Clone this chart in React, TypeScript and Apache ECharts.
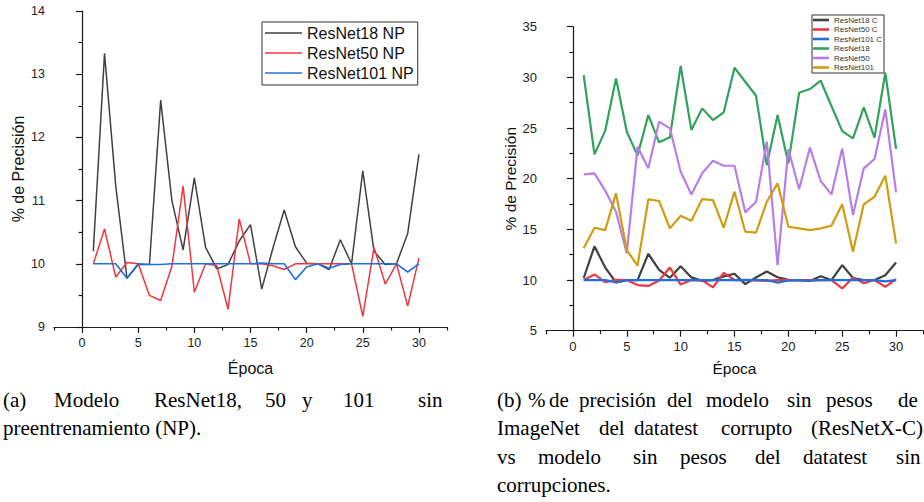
import React, { useEffect, useRef } from "react";
import * as echarts from "echarts";

const epochs = [1, 2, 3, 4, 5, 6, 7, 8, 9, 10, 11, 12, 13, 14, 15, 16, 17, 18, 19, 20, 21, 22, 23, 24, 25, 26, 27, 28, 29, 30];

const resnet18NP = [10.2, 13.33, 11.23, 9.77, 9.99, 9.99, 12.59, 11.0, 10.22, 11.36, 10.26, 9.92, 9.99, 10.36, 10.62, 9.6, 10.25, 10.85, 10.27, 10.01, 10.0, 9.91, 10.38, 10.0, 11.47, 10.2, 9.99, 10.0, 10.48, 11.73];
const resnet50NP = [10.0, 10.55, 9.79, 10.02, 10.0, 9.5, 9.42, 9.96, 11.23, 9.55, 10.0, 9.97, 9.28, 10.71, 10.0, 10.0, 9.97, 9.91, 10.0, 10.0, 10.0, 10.0, 10.0, 10.0, 9.17, 10.26, 9.68, 10.0, 9.33, 10.09];
const resnet101NP = [10.0, 10.0, 10.0, 9.77, 10.0, 9.99, 9.99, 10.0, 10.0, 10.0, 10.0, 10.0, 10.0, 10.0, 10.0, 10.01, 10.0, 10.0, 9.75, 9.95, 10.0, 9.93, 9.99, 10.0, 10.0, 10.0, 10.0, 10.0, 9.87, 10.0];

const resnet18C = resnet18NP;
const resnet50C = resnet50NP;
const resnet101C = resnet101NP;
const resnet18 = [30.23, 22.4, 24.74, 29.9, 24.64, 22.3, 26.28, 23.59, 24.08, 31.12, 24.8, 26.94, 25.79, 26.55, 30.95, 29.57, 28.19, 21.35, 26.28, 21.51, 28.49, 28.85, 29.67, 27.17, 24.7, 23.98, 27.04, 24.05, 30.46, 22.93];
const resnet50 = [20.43, 20.53, 18.82, 16.74, 12.63, 23.16, 21.02, 25.63, 24.97, 20.69, 18.45, 20.53, 21.78, 21.28, 21.28, 16.68, 17.73, 23.65, 11.48, 22.93, 18.95, 23.06, 19.77, 18.45, 22.99, 16.41, 21.02, 21.94, 26.84, 18.65];
const resnet101 = [13.13, 15.16, 14.93, 18.55, 12.96, 11.41, 17.96, 17.8, 15.1, 16.35, 15.86, 17.99, 17.89, 15.16, 18.72, 14.77, 14.67, 17.73, 19.54, 15.26, 15.1, 14.93, 15.1, 15.36, 17.47, 12.8, 17.47, 18.22, 20.3, 13.62];

const xMajorTicks = [0, 5, 10, 15, 20, 25, 30];
const xMinorTicks = [-2.5, 2.5, 7.5, 12.5, 17.5, 22.5, 27.5, 32.5];

const leftNames = ["ResNet18 NP", "ResNet50 NP", "ResNet101 NP"];
const rightNames = ["ResNet18 C", "ResNet50 C", "ResNet101 C", "ResNet18", "ResNet50", "ResNet101"];

const axisTitleX = "Época";
const axisTitleY = "% de Precisión";

const captionA1 = ["(a)", "Modelo", "ResNet18,", "50", "y", "101", "sin"];
const captionA2 = "preentrenamiento (NP).";
const captionB1 = ["(b)", "%", "de", "precisión", "del", "modelo", "sin", "pesos", "de"];
const captionB2 = ["ImageNet", "del", "datatest", "corrupto", "(ResNetX-C)"];
const captionB3 = ["vs", "modelo", "sin", "pesos", "del", "datatest", "sin"];
const captionB4 = "corrupciones.";

const SANS = "'Liberation Sans', Arial, sans-serif";
const SERIF = "'Liberation Serif', 'Times New Roman', serif";

const pairs = (ys: number[]) => epochs.map((e, i) => [e, ys[i]]);

export default function App() {
  const ref = useRef<HTMLDivElement>(null);
  useEffect(() => {
    if (!ref.current) return;
    const chart = echarts.init(ref.current, undefined, { renderer: "svg" });

    const grids = [
      { left: 54, top: 11, width: 393, height: 316 },
      { left: 546, top: 26.7, width: 377, height: 304 },
    ];
    const axisColor = "#1a1a1a";
    const labelColor = "#222";

    const mkX = (g: number, fs: number, nameFs: number, nameGap: number) => [
      {
        gridIndex: g,
        type: "value",
        min: -2.5,
        max: 32.5,
        position: "bottom",
        axisLine: { show: true, lineStyle: { color: axisColor, width: 1.2 } },
        axisTick: { show: true, customValues: xMajorTicks, length: 6, lineStyle: { color: axisColor, width: 1.2 } },
        axisLabel: { customValues: xMajorTicks, fontSize: fs, color: labelColor, fontFamily: SANS, margin: 9 },
        splitLine: { show: false },
        name: axisTitleX,
        nameLocation: "middle",
        nameGap,
        nameTextStyle: { fontSize: nameFs, color: "#111", fontFamily: SANS },
      },
      {
        gridIndex: g,
        type: "value",
        min: -2.5,
        max: 32.5,
        position: "top",
        offset: -grids[g].height,
        axisLine: { show: false },
        axisTick: { show: true, inside: true, customValues: xMinorTicks, length: 3.5, lineStyle: { color: axisColor, width: 1.2 } },
        axisLabel: { show: false },
        splitLine: { show: false },
      },
    ];

    const mkY = (g: number, min: number, max: number, interval: number, fs: number, nameFs: number) => ({
      gridIndex: g,
      type: "value",
      min,
      max,
      interval,
      axisLine: { show: true, lineStyle: { color: axisColor, width: 1.2 } },
      axisTick: { show: true, length: 6, lineStyle: { color: axisColor, width: 1.2 } },
      minorTick: { show: true, splitNumber: 2, length: 3.5, lineStyle: { color: axisColor, width: 1.2 } },
      axisLabel: { fontSize: fs, color: labelColor, fontFamily: SANS, margin: 9 },
      splitLine: { show: false },
      name: axisTitleY,
      nameLocation: "middle",
      nameGap: 28,
      nameTextStyle: { fontSize: nameFs, color: "#111", fontFamily: SANS },
    });

    const line = (name: string, data: number[], color: string, width: number, xi: number, yi: number) => ({
      name,
      type: "line",
      xAxisIndex: xi,
      yAxisIndex: yi,
      data: pairs(data),
      showSymbol: false,
      symbol: "none",
      color,
      lineStyle: { color, width },
      itemStyle: { color },
      z: 3,
    });

    const C_BLACK = "#404040";
    const C_RED = "#f0363e";
    const C_BLUE = "#1f6fe0";
    const C_GREEN = "#2fa35c";
    const C_PURPLE = "#b87ee6";
    const C_GOLD = "#d09c10";

    const FS = 21;
    const captionY = (baseline: number) => baseline - 0.3375 * FS;
    const words = (list: string[], xs: number[], baseline: number) =>
      list.map((t, i) => ({
        type: "text",
        x: xs[i],
        y: captionY(baseline),
        style: { text: t, fontSize: FS, fontFamily: SERIF, fill: "#000", verticalAlign: "middle" },
      }));

    const option: any = {
      animation: false,
      backgroundColor: "#fff",
      grid: grids,
      xAxis: [...mkX(0, 12.5, 16, 33), ...mkX(1, 13, 15.5, 30)],
      yAxis: [mkY(0, 9, 14, 1, 12.5, 16), mkY(1, 5, 35, 5, 13, 15.5)],
      legend: [
        {
          data: leftNames,
          orient: "vertical",
          left: 262,
          top: 22,
          padding: [3, 4, 4, 3],
          itemWidth: 37,
          itemHeight: 14,
          itemGap: 4,
          icon: "path://M0,0H37V1.6H0Z",
          borderColor: "#333",
          borderWidth: 1,
          backgroundColor: "#fff",
          textStyle: { fontSize: 16, color: "#111", fontFamily: SANS },
        },
        {
          data: rightNames,
          orient: "vertical",
          left: 812,
          top: 15,
          padding: [1, 2, 1.5, 1],
          itemWidth: 16,
          itemHeight: 8,
          itemGap: 1.5,
          icon: "path://M0,0H16V2.6H0Z",
          borderColor: "#333",
          borderWidth: 1,
          backgroundColor: "#fff",
          textStyle: { fontSize: 8, color: "#333", fontFamily: SANS },
        },
      ],
      series: [
        line(leftNames[0], resnet18NP, C_BLACK, 1.5, 0, 0),
        line(leftNames[1], resnet50NP, C_RED, 1.5, 0, 0),
        line(leftNames[2], resnet101NP, C_BLUE, 1.6, 0, 0),
        line(rightNames[0], resnet18C, C_BLACK, 2.2, 2, 1),
        line(rightNames[1], resnet50C, C_RED, 2.2, 2, 1),
        line(rightNames[2], resnet101C, C_BLUE, 2.2, 2, 1),
        line(rightNames[3], resnet18, C_GREEN, 2.2, 2, 1),
        line(rightNames[4], resnet50, C_PURPLE, 2.2, 2, 1),
        line(rightNames[5], resnet101, C_GOLD, 2.2, 2, 1),
      ],
      graphic: [
        ...words(captionA1, [3, 54, 154, 265, 302, 343, 418], 407),
        ...words([captionA2], [3], 435.5),
        ...words(captionB1, [497, 528, 549, 579, 667, 706, 787, 826, 898], 407),
        ...words(captionB2, [497, 599, 634, 721, 811], 435.5),
        ...words(captionB3, [497, 538, 633, 680, 755, 803, 896], 464),
        ...words([captionB4], [497], 492.5),
      ],
    };
    chart.setOption(option);
    return () => chart.dispose();
  }, []);

  return (
    <div
      ref={ref}
      style={{ position: "fixed", left: 0, top: 0, width: 924, height: 502, background: "#fff" }}
    />
  );
}
